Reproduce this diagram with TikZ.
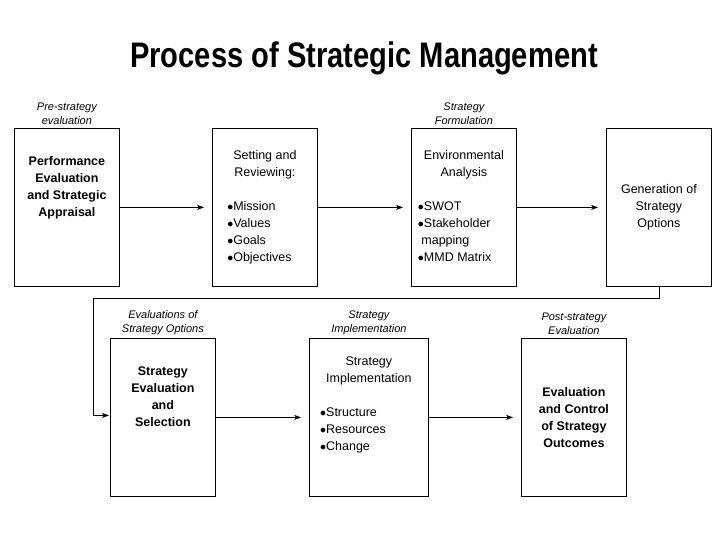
\documentclass[tikz,border=0pt]{standalone}
\usepackage{fontspec}
\setmainfont{Liberation Sans}
\newfontfamily\titlefont[FakeStretch=0.82]{Liberation Sans}
\usetikzlibrary{positioning,arrows.meta}
\tikzset{
  stage/.style={draw, thick, minimum width=105pt, minimum height=158pt, inner sep=2pt, align=center, font=\fontsize{12.5}{17}\selectfont},
  tag/.style={font=\itshape\fontsize{11}{14}\selectfont, align=center},
  flow/.style={-{Stealth[length=7pt,width=5pt]}}
}
\begin{document}
\begin{tikzpicture}[x=1pt,y=-1pt]
	\useasboundingbox (0,0) rectangle (720,540);
	% Title
	\node [font=\titlefont\bfseries\fontsize{35.5}{38}\selectfont] (title) at (364,58) {Process of Strategic Management};
	
	% TOP ROW
	\node [stage, anchor=north west] (perf) at (14,128) {\textbf{Performance}\\\textbf{Evaluation}\\\textbf{and Strategic}\\\textbf{Appraisal}\\[24pt]};
	\node [stage, anchor=north west] (setrev) at (212,128) {\begin{tabular}{@{}l@{}}\multicolumn{1}{c}{Setting and}\\\multicolumn{1}{c}{Reviewing:}\\[17pt]$\bullet$Mission\\$\bullet$Values\\$\bullet$Goals\\$\bullet$Objectives\end{tabular}};
	\node [stage, anchor=north west] (envan) at (411,128) {\begin{tabular}{@{}l@{}}\multicolumn{1}{c}{Environmental}\\\multicolumn{1}{c}{Analysis}\\[17pt]$\bullet$SWOT\\$\bullet$Stakeholder\\\ mapping\\$\bullet$MMD Matrix\end{tabular}};
	\node [stage, anchor=north west] (genopt) at (606,128) {Generation of\\Strategy\\Options};
	
	\node [tag, above=0pt of perf] (pre) {Pre-strategy\\evaluation};
	\node [tag, above=0pt of envan] (form) {Strategy\\Formulation};
	
	\draw [flow] (perf.east) -- ([xshift=-8pt]setrev.west);
	\draw [flow] (setrev.east) -- ([xshift=-8pt]envan.west);
	\draw [flow] (envan.east) -- ([xshift=-8pt]genopt.west);
	
	% BOTTOM ROW
	\node [stage, anchor=north west] (select) at (110,338) {\textbf{Strategy}\\\textbf{Evaluation}\\\textbf{and}\\\textbf{Selection}\\[24pt]};
	\node [stage, anchor=north west, minimum width=119pt] (impl) at (309,338) {\begin{tabular}{@{}l@{}}\multicolumn{1}{c}{Strategy}\\\multicolumn{1}{c}{Implementation}\\[17pt]$\bullet$Structure\\$\bullet$Resources\\$\bullet$Change\end{tabular}\\[24pt]};
	\node [stage, anchor=north west] (control) at (521,338) {\textbf{Evaluation}\\\textbf{and Control}\\\textbf{of Strategy}\\\textbf{Outcomes}};
	
	\node [tag, above=0pt of select] (evalopt) {Evaluations of\\Strategy Options};
	\node [tag, above=0pt of impl] (implt) {Strategy\\Implementation};
	\node [tag, above=0pt of control] (post) {Post-strategy\\Evaluation};
	
	\coordinate (turn) at (93,298);
	\draw [flow] (genopt.south) |- (turn) |- ([xshift=-1pt,yshift=2pt]select.west);
	\draw [flow] (select.east) -- ([xshift=-8pt]impl.west);
	\draw [flow] (impl.east) -- ([xshift=-8pt]control.west);
\end{tikzpicture}
\end{document}
